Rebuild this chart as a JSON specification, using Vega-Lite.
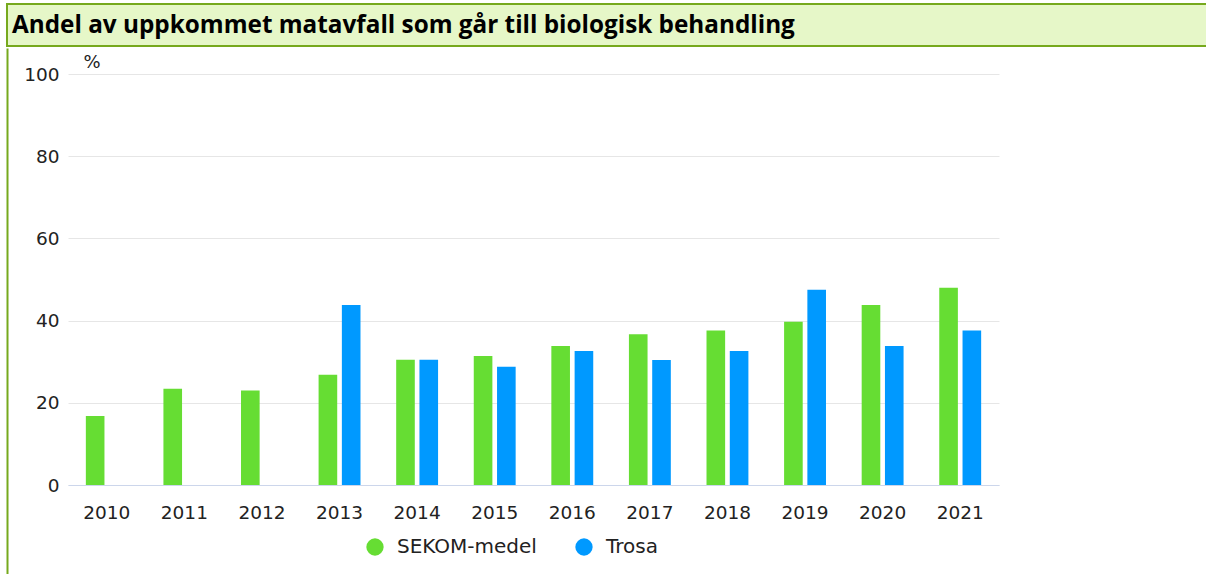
{
  "$schema": "https://vega.github.io/schema/vega-lite/v6.json",
  "background": "white",
  "padding": {"left": 6, "top": 3, "right": 0, "bottom": 0},
  "config": {"view": {"stroke": null}},
  "spacing": 1,
  "vconcat": [
    {
      "width": 1210,
      "height": 42,
      "view": {"fill": "#e6f7c8", "stroke": "#76a91d", "strokeWidth": 2},
      "data": {"values": [{"label": "Andel av uppkommet matavfall som går till biologisk behandling", "pos": 0}]},
      "mark": {"type": "text", "align": "left", "baseline": "alphabetic", "dx": 5, "dy": 8, "font": "Open Sans", "fontSize": 24.3, "fontWeight": "bold", "color": "#000000"},
      "encoding": {
        "x": {"field": "pos", "type": "quantitative", "scale": {"domain": [0, 1]}, "axis": null},
        "text": {"field": "label"}
      }
    },
    {
      "spacing": 1,
      "hconcat": [
        {
          "width": 1,
          "height": 526,
          "data": {"values": []},
          "mark": {"type": "point"},
          "encoding": {
            "y": {"field": "v", "type": "quantitative", "scale": {"domain": [0, 1]},
              "axis": {"labels": false, "ticks": false, "grid": false, "title": null, "domainColor": "#76a91d", "domainWidth": 2}}
          }
        },
        {
          "width": 931,
          "height": 437,
          "data": {"values": [
            {"year": "2010", "series": "SEKOM-medel", "value": 16.8},
            {"year": "2011", "series": "SEKOM-medel", "value": 23.4},
            {"year": "2012", "series": "SEKOM-medel", "value": 23.0},
            {"year": "2013", "series": "SEKOM-medel", "value": 26.8},
            {"year": "2013", "series": "Trosa", "value": 43.8},
            {"year": "2014", "series": "SEKOM-medel", "value": 30.5},
            {"year": "2014", "series": "Trosa", "value": 30.5},
            {"year": "2015", "series": "SEKOM-medel", "value": 31.4},
            {"year": "2015", "series": "Trosa", "value": 28.8},
            {"year": "2016", "series": "SEKOM-medel", "value": 33.8},
            {"year": "2016", "series": "Trosa", "value": 32.6},
            {"year": "2017", "series": "SEKOM-medel", "value": 36.7},
            {"year": "2017", "series": "Trosa", "value": 30.4},
            {"year": "2018", "series": "SEKOM-medel", "value": 37.6},
            {"year": "2018", "series": "Trosa", "value": 32.6},
            {"year": "2019", "series": "SEKOM-medel", "value": 39.7},
            {"year": "2019", "series": "Trosa", "value": 47.5},
            {"year": "2020", "series": "SEKOM-medel", "value": 43.8},
            {"year": "2020", "series": "Trosa", "value": 33.8},
            {"year": "2021", "series": "SEKOM-medel", "value": 48.0},
            {"year": "2021", "series": "Trosa", "value": 37.6}
          ]},
          "mark": {"type": "bar"},
          "encoding": {
            "x": {"field": "year", "type": "nominal", "scale": {"paddingInner": 0.46, "paddingOuter": 0.23},
              "axis": {"title": null, "labelAngle": 0, "domainColor": "#ccd6eb", "domainWidth": 1, "ticks": false, "labelPadding": 18, "labelFont": "DejaVu Sans", "labelFontSize": 18.5, "labelColor": "#222222", "labelBaseline": "top"}},
            "xOffset": {"field": "series", "type": "nominal", "scale": {"domain": ["SEKOM-medel", "Trosa"], "paddingInner": 0.2}},
            "y": {"field": "value", "type": "quantitative", "scale": {"domain": [0, 106.33], "nice": false},
              "axis": {"values": [0, 20, 40, 60, 80, 100], "title": "%", "titleAngle": 0, "titleX": 15, "titleY": 19, "titleAlign": "left", "titleBaseline": "alphabetic", "titleFontWeight": "normal", "titleFont": "DejaVu Sans", "titleFontSize": 18, "titleColor": "#222222", "domain": false, "ticks": false, "gridColor": "#e6e6e6", "labelPadding": 9, "minExtent": 59, "labelFont": "DejaVu Sans", "labelFontSize": 18.5, "labelColor": "#222222"}},
            "color": {"field": "series", "type": "nominal", "scale": {"domain": ["SEKOM-medel", "Trosa"], "range": ["#66dd33", "#0099ff"]},
              "legend": {"orient": "none", "legendX": 358, "legendY": 533, "direction": "horizontal", "title": null, "symbolType": "circle", "symbolSize": 300, "symbolStrokeWidth": 0, "symbolOpacity": 1, "labelFont": "DejaVu Sans", "labelFontSize": 20, "labelColor": "#222222", "columnPadding": 37, "labelOffset": 12, "padding": 0}}
          }
        }
      ]
    }
  ]
}
